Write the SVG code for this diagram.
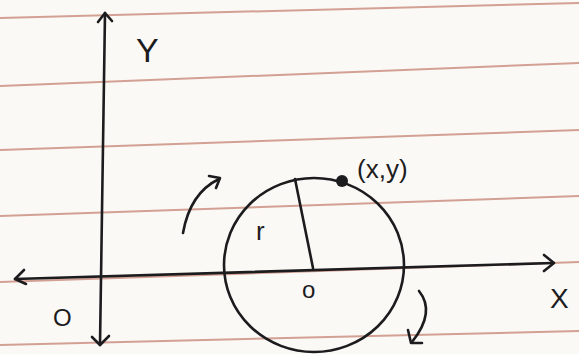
<svg xmlns="http://www.w3.org/2000/svg" width="579" height="354" viewBox="0 0 579 354">
  <defs>
    <style>
      .rule { stroke: #c98a7c; stroke-width: 2; fill: none; opacity: 0.8; }
      .ink { stroke: #1c1c1e; stroke-width: 2.6; fill: none; stroke-linecap: round; stroke-linejoin: round; }
      .lbl { font-family: "Liberation Sans", Arial, sans-serif; fill: #1c1c1e; }
    </style>
  </defs>
  <rect x="0" y="0" width="579" height="354" fill="#fbf9f6"/>
  <g id="ruled-lines">
    <line class="rule" x1="0" y1="18" x2="579" y2="3"/>
    <line class="rule" x1="0" y1="86" x2="579" y2="63"/>
    <line class="rule" x1="0" y1="150" x2="579" y2="130"/>
    <line class="rule" x1="0" y1="216" x2="579" y2="196"/>
    <line class="rule" x1="0" y1="282" x2="579" y2="262"/>
    <line class="rule" x1="0" y1="345" x2="579" y2="331"/>
  </g>
  <g id="connectors">
    <!-- Y axis -->
    <line class="ink" x1="105" y1="13" x2="100" y2="345"/>
    <polyline class="ink" points="98,22 105,13 112,21"/>
    <polyline class="ink" points="92,337 100,345 109,336"/>
    <!-- X axis -->
    <line class="ink" x1="15" y1="279" x2="553" y2="263"/>
    <polyline class="ink" points="24,270 15,279 26,284"/>
    <polyline class="ink" points="544,255 554,263 544,271"/>
    <!-- radius -->
    <line class="ink" x1="295" y1="179" x2="313" y2="268"/>
    <!-- rotation arrows -->
    <path class="ink" d="M183,233 Q190,193 219,179"/>
    <polyline class="ink" points="209,176 220,178 216,188"/>
    <path class="ink" d="M419,291 Q436,312 412,342"/>
    <polyline class="ink" points="408,330 411,343 422,343"/>
  </g>
  <g id="circle">
    <ellipse class="ink" cx="314" cy="265" rx="90" ry="87"/>
  </g>
  <g id="point">
    <circle cx="342" cy="181" r="6" fill="#1c1c1e"/>
    <text class="lbl" x="357" y="178" font-size="26">(x,y)</text>
  </g>
  <g id="label-Y"><text class="lbl" x="136" y="62" font-size="34">Y</text></g>
  <g id="label-X"><text class="lbl" x="550" y="308" font-size="28">X</text></g>
  <g id="label-O"><text class="lbl" x="53" y="326" font-size="24">O</text></g>
  <g id="label-center"><text class="lbl" x="302" y="298" font-size="24">o</text></g>
  <g id="label-r"><text class="lbl" x="256" y="240" font-size="26">r</text></g>
</svg>
